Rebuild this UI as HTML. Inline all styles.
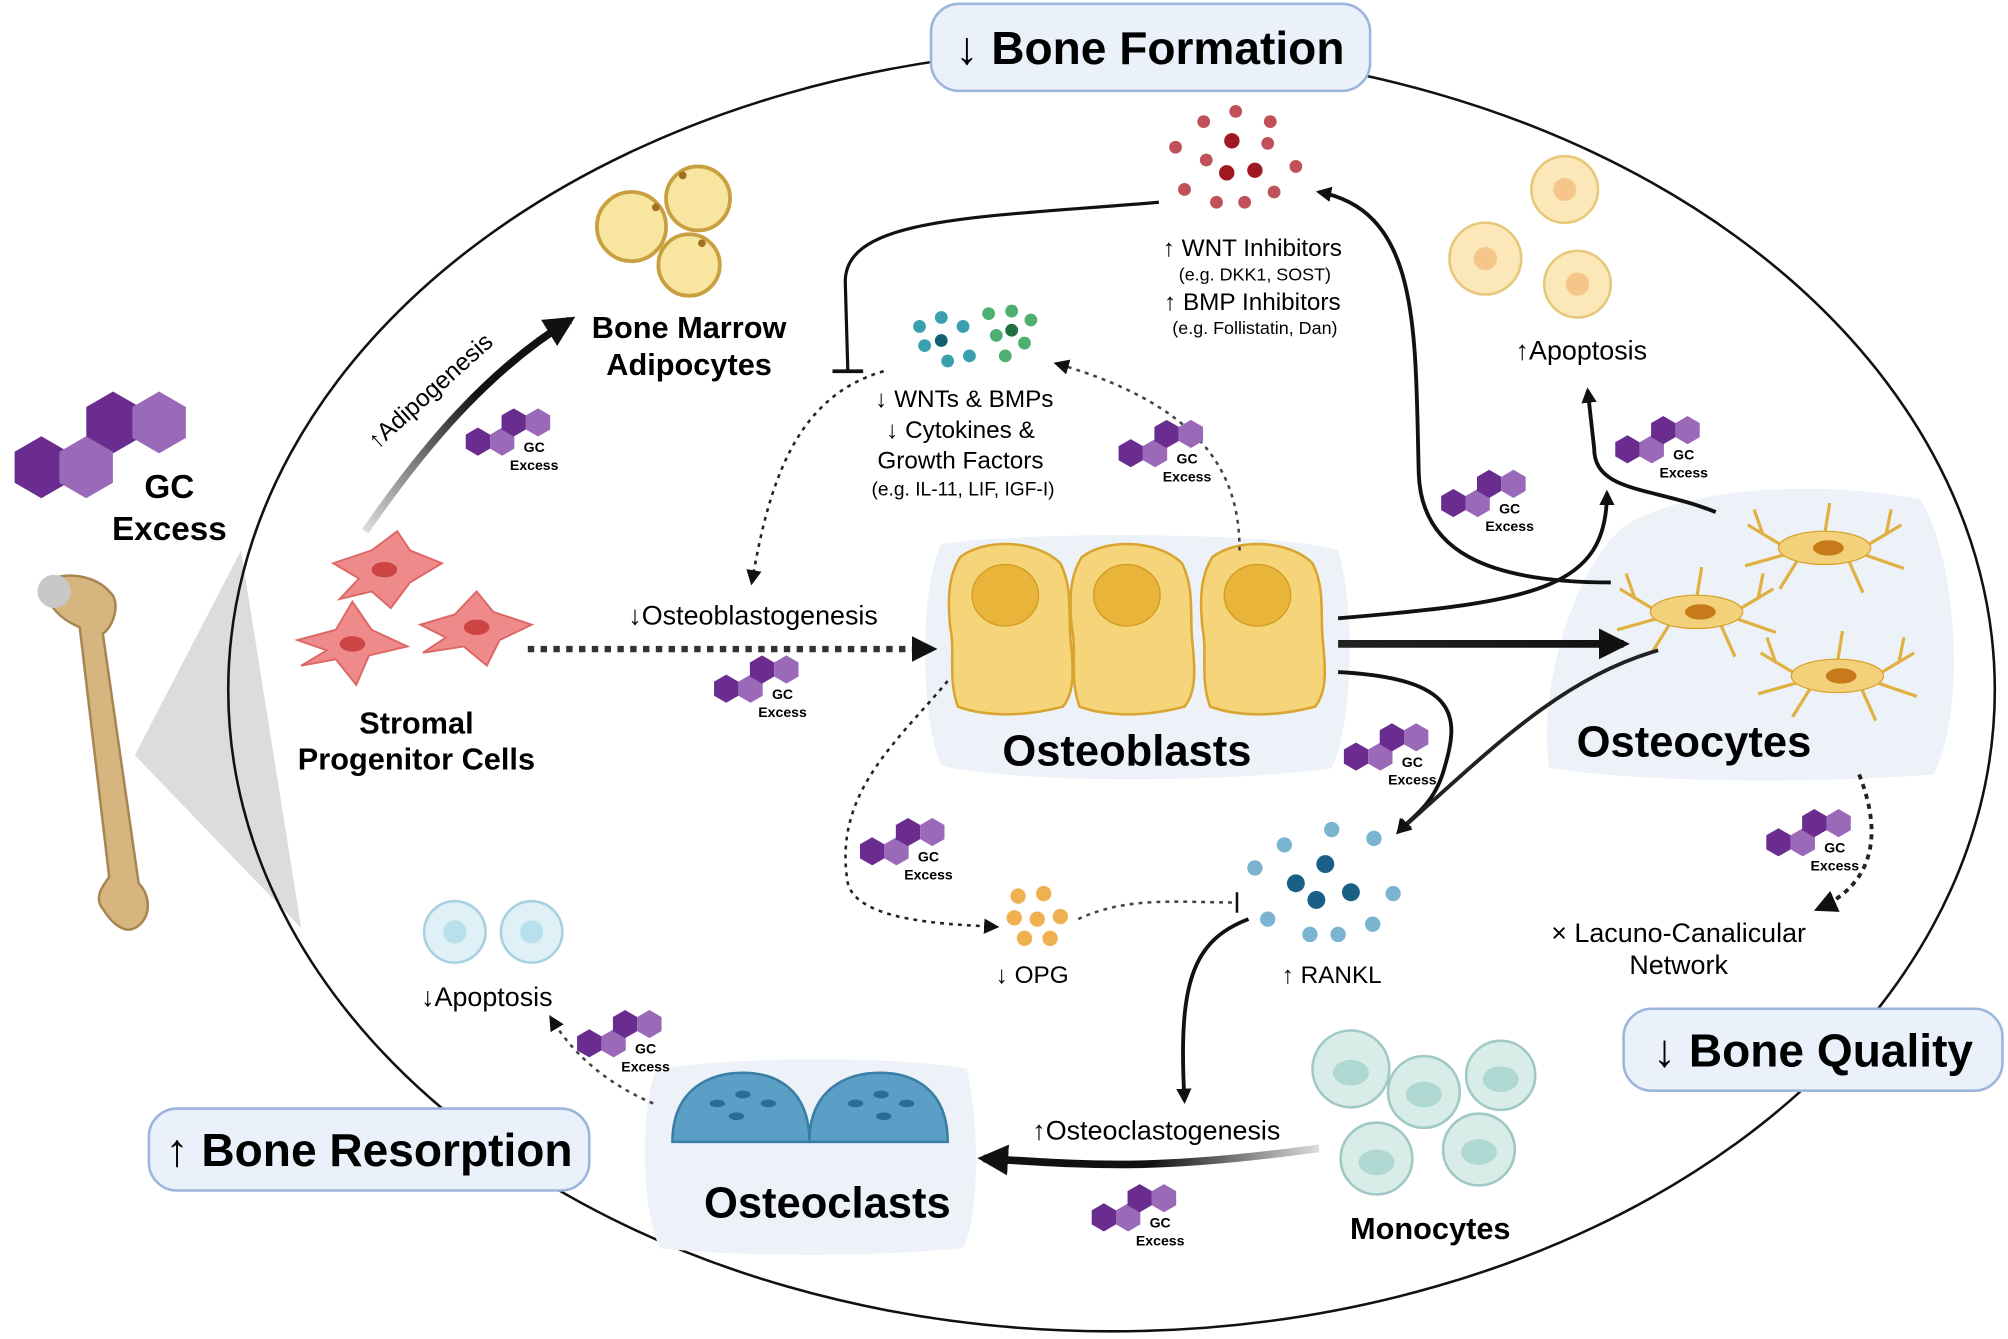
<!DOCTYPE html>
<html><head><meta charset="utf-8"><style>
html,body{margin:0;padding:0;background:#fff}
svg{display:block}
text{font-family:"Liberation Sans",sans-serif}
</style></head><body>
<svg width="2008" height="1339" viewBox="0 0 1568 1046" xmlns="http://www.w3.org/2000/svg">
<defs>
<marker id="ah" viewBox="0 0 10 10" refX="8" refY="5" markerWidth="4" markerHeight="4" orient="auto"><path d="M0,0 L10,5 L0,10 z" fill="#111"/></marker>
<marker id="ahs" viewBox="0 0 10 10" refX="8" refY="5" markerWidth="6" markerHeight="6" orient="auto"><path d="M0,0 L10,5 L0,10 z" fill="#111"/></marker>
<linearGradient id="g1" gradientUnits="userSpaceOnUse" x1="285" y1="415" x2="445" y2="250"><stop offset="0" stop-color="#ddd"/><stop offset="0.6" stop-color="#111"/></linearGradient>
<linearGradient id="gh" gradientUnits="userSpaceOnUse" x1="1045" y1="0" x2="1268" y2="0"><stop offset="0" stop-color="#222"/><stop offset="1" stop-color="#111"/></linearGradient>
<linearGradient id="gm" gradientUnits="userSpaceOnUse" x1="1030" y1="0" x2="768" y2="0"><stop offset="0" stop-color="#ddd"/><stop offset="0.5" stop-color="#111"/></linearGradient>
<g id="hex"><polygon points="0,-11 9.5,-5.5 9.5,5.5 0,11 -9.5,5.5 -9.5,-5.5"/></g>
<g id="badge">
<use href="#hex" x="-44" y="-4" fill="#6a2d8f"/>
<use href="#hex" x="-25" y="-4" fill="#9a6ab8"/>
<use href="#hex" x="-16" y="-19" fill="#6a2d8f"/>
<use href="#hex" x="3" y="-19" fill="#9a6ab8"/>
<text x="0" y="4" font-size="11" font-weight="bold" text-anchor="middle">GC</text>
<text x="0" y="18" font-size="11" font-weight="bold" text-anchor="middle">Excess</text>
</g>
<g id="ob"><path d="M-40,-55 C-20,-70 20,-68 38,-50 C48,-30 44,-10 46,10 C48,30 50,50 40,62 C10,70 -20,70 -42,62 C-50,40 -44,20 -48,0 C-50,-20 -50,-40 -40,-55 z" fill="#f6d57a" stroke="#d9a530" stroke-width="2"/><ellipse cx="-5" cy="-25" rx="26" ry="24" fill="#e8b43a" stroke="#d39a20"/></g>
<g id="oc"><g stroke="#e0b040" stroke-width="2.5" fill="none"><path d="M-30,0 L-60,-18 M-48,-10 L-55,-30 M-30,5 L-62,14 M-20,8 L-35,32 M0,-10 L4,-35 M30,0 L60,-18 M48,-10 L52,-30 M30,5 L62,16 M18,8 L30,35"/></g><ellipse cx="0" cy="0" rx="36" ry="13" fill="#f3d07a" stroke="#d9a530"/><ellipse cx="3" cy="0" rx="12" ry="6" fill="#c87a1a"/></g>
</defs>
<rect width="1568" height="1046" fill="#fff"/>
<polygon points="105,590 188,430 235,725" fill="#dcdcdc"/>
<ellipse cx="868" cy="539" rx="690" ry="501" fill="none" stroke="#111" stroke-width="2"/>
<path d="M35,455 C50,445 75,450 85,462 C95,470 88,490 80,495 L108,690 C118,700 118,718 105,725 C95,730 85,718 80,710 C72,700 82,690 85,685 L62,490 C50,485 35,475 35,455 z" fill="#d6b57e" stroke="#a88654" stroke-width="2"/>
<circle cx="42" cy="462" r="13" fill="#c8c8c8"/>
<g fill="#6a2d8f"><use href="#hex" transform="translate(32,365) scale(2.2)"/><use href="#hex" transform="translate(88,330) scale(2.2)"/></g>
<g fill="#9a6ab8"><use href="#hex" transform="translate(67,365) scale(2.2)"/><use href="#hex" transform="translate(124,330) scale(2.2)"/></g>
<text x="132" y="389" font-size="26" font-weight="bold" text-anchor="middle">GC</text>
<text x="132" y="422" font-size="26" font-weight="bold" text-anchor="middle">Excess</text>
<rect x="727" y="3" width="343" height="68" rx="22" fill="#eaf1fa" stroke="#9bb5dc" stroke-width="2"/>
<text x="898" y="50" font-size="36" font-weight="bold" text-anchor="middle">↓ Bone Formation</text>
<rect x="1268" y="788" width="296" height="64" rx="22" fill="#eaf1fa" stroke="#9bb5dc" stroke-width="2"/>
<text x="1416" y="833" font-size="36" font-weight="bold" text-anchor="middle">↓ Bone Quality</text>
<rect x="116" y="866" width="344" height="64" rx="22" fill="#eaf1fa" stroke="#9bb5dc" stroke-width="2"/>
<text x="288" y="911" font-size="36" font-weight="bold" text-anchor="middle">↑ Bone Resorption</text>
<path d="M735,425 C800,415 1000,415 1045,430 C1060,480 1055,570 1040,600 C960,612 790,612 735,598 C718,560 718,460 735,425 z" fill="#edf2f8"/>
<path d="M1270,410 C1320,380 1420,375 1500,390 C1530,440 1535,560 1510,605 C1420,612 1290,612 1210,600 C1200,540 1230,440 1270,410 z" fill="#edf2f8"/>
<path d="M512,835 C580,825 700,825 755,835 C765,880 765,950 752,975 C680,982 580,982 515,975 C500,940 500,870 512,835 z" fill="#edf2f8"/>
<g fill="#f8e6a0" stroke="#c9a040" stroke-width="3"><circle cx="493" cy="177" r="27"/><circle cx="545" cy="155" r="25"/><circle cx="538" cy="207" r="24"/></g>
<g fill="#a07020"><circle cx="512" cy="162" r="3"/><circle cx="533" cy="137" r="3"/><circle cx="548" cy="190" r="3"/></g>
<text x="538" y="264" font-size="24" font-weight="bold" text-anchor="middle">Bone Marrow</text>
<text x="538" y="293" font-size="24" font-weight="bold" text-anchor="middle">Adipocytes</text>
<path d="M285,415 C330,350 380,290 445,250" stroke="url(#g1)" stroke-width="6" fill="none" marker-end="url(#ah)"/>
<text transform="translate(340,310) rotate(-42)" font-size="19" text-anchor="middle">↑Adipogenesis</text>
<g fill="#ef8a8a" stroke="#d66" stroke-width="1.5">
<path d="M260,440 L290,430 L310,415 L320,430 L345,440 L320,455 L305,475 L290,462 L265,468 L280,452 z"/>
<path d="M232,500 L262,492 L275,470 L290,492 L318,505 L288,512 L278,535 L262,515 L235,520 L255,508 z"/>
<path d="M328,488 L355,480 L372,462 L385,478 L415,488 L390,500 L380,520 L362,505 L330,510 L348,498 z"/>
</g>
<g fill="#c44"><ellipse cx="300" cy="445" rx="10" ry="6"/><ellipse cx="275" cy="503" rx="10" ry="6"/><ellipse cx="372" cy="490" rx="10" ry="6"/></g>
<text x="325" y="573" font-size="24" font-weight="bold" text-anchor="middle">Stromal</text>
<text x="325" y="601" font-size="24" font-weight="bold" text-anchor="middle">Progenitor Cells</text>
<path d="M412,507 L728,507" stroke="#333" stroke-width="5" stroke-dasharray="5,5" fill="none" marker-end="url(#ah)"/>
<text x="588" y="488" font-size="21" text-anchor="middle">↓Osteoblastogenesis</text>
<use href="#ob" x="790" y="490"/><use href="#ob" x="885" y="490"/><use href="#ob" x="987" y="490"/>
<text x="880" y="598" font-size="34" font-weight="bold" text-anchor="middle">Osteoblasts</text>
<use href="#oc" x="1425" y="428"/><use href="#oc" x="1325" y="478"/><use href="#oc" x="1435" y="528"/>
<text x="1323" y="591" font-size="34" font-weight="bold" text-anchor="middle">Osteocytes</text>
<path d="M1045,503 L1268,503" stroke="url(#gh)" stroke-width="6" fill="none" marker-end="url(#ah)"/>
<g fill="#c0505a"><circle cx="940" cy="95" r="5"/><circle cx="965" cy="87" r="5"/><circle cx="992" cy="95" r="5"/><circle cx="918" cy="115" r="5"/><circle cx="942" cy="125" r="5"/><circle cx="1012" cy="130" r="5"/><circle cx="925" cy="148" r="5"/><circle cx="950" cy="158" r="5"/><circle cx="972" cy="158" r="5"/><circle cx="995" cy="150" r="5"/><circle cx="990" cy="112" r="5"/></g>
<g fill="#a01820"><circle cx="962" cy="110" r="6"/><circle cx="958" cy="135" r="6"/><circle cx="980" cy="133" r="6"/></g>
<text x="978" y="200" font-size="19" text-anchor="middle">↑ WNT Inhibitors</text>
<text x="980" y="219" font-size="14" text-anchor="middle">(e.g. DKK1, SOST)</text>
<text x="978" y="242" font-size="19" text-anchor="middle">↑ BMP Inhibitors</text>
<text x="980" y="261" font-size="14" text-anchor="middle">(e.g. Follistatin, Dan)</text>
<path d="M905,158 C760,170 660,170 660,220 L662,290" stroke="#111" stroke-width="2.5" fill="none"/>
<line x1="650" y1="290" x2="674" y2="290" stroke="#111" stroke-width="3"/>
<g fill="#3aa0b0"><circle cx="718" cy="255" r="5"/><circle cx="735" cy="248" r="5"/><circle cx="752" cy="255" r="5"/><circle cx="722" cy="270" r="5"/><circle cx="740" cy="282" r="5"/><circle cx="757" cy="278" r="5"/></g>
<g fill="#106070"><circle cx="735" cy="266" r="5"/></g>
<g fill="#4db070"><circle cx="772" cy="245" r="5"/><circle cx="790" cy="243" r="5"/><circle cx="805" cy="250" r="5"/><circle cx="778" cy="262" r="5"/><circle cx="800" cy="268" r="5"/><circle cx="785" cy="278" r="5"/></g>
<g fill="#207040"><circle cx="790" cy="258" r="5"/></g>
<text x="753" y="318" font-size="19" text-anchor="middle">↓ WNTs &amp; BMPs</text>
<text x="750" y="342" font-size="19" text-anchor="middle">↓ Cytokines &amp;</text>
<text x="750" y="366" font-size="19" text-anchor="middle">Growth Factors</text>
<text x="752" y="387" font-size="15" text-anchor="middle">(e.g. IL-11, LIF, IGF-I)</text>
<path d="M690,290 C620,310 600,380 587,455" stroke="#222" stroke-width="2" stroke-dasharray="3,4" fill="none" marker-end="url(#ahs)"/>
<path d="M968,430 C968,380 950,320 825,284" stroke="#444" stroke-width="2" stroke-dasharray="3,4" fill="none" marker-end="url(#ahs)"/>
<path d="M1045,483 C1200,470 1255,460 1255,385" stroke="#111" stroke-width="3" fill="none" marker-end="url(#ah)"/>
<path d="M1258,455 C1160,455 1110,430 1108,370 C1105,260 1110,165 1030,150" stroke="#111" stroke-width="3" fill="none" marker-end="url(#ah)"/>
<path d="M1340,400 C1290,380 1245,385 1245,350 L1240,305" stroke="#111" stroke-width="3" fill="none" marker-end="url(#ah)"/>
<g fill="#fbe7b8" stroke="#e7c77a" stroke-width="2"><circle cx="1222" cy="148" r="26"/><circle cx="1160" cy="202" r="28"/><circle cx="1232" cy="222" r="26"/></g>
<g fill="#f5c58a"><circle cx="1222" cy="148" r="9"/><circle cx="1160" cy="202" r="9"/><circle cx="1232" cy="222" r="9"/></g>
<text x="1235" y="281" font-size="21" text-anchor="middle">↑Apoptosis</text>
<path d="M1045,525 C1140,530 1140,560 1128,600 C1120,630 1100,640 1092,650" stroke="#111" stroke-width="3" fill="none" marker-end="url(#ah)"/>
<path d="M1295,508 C1220,530 1170,580 1092,650" stroke="#222" stroke-width="3" fill="none" marker-end="url(#ah)"/>
<g fill="#7ab4d0"><circle cx="980" cy="678" r="6"/><circle cx="1003" cy="660" r="6"/><circle cx="1040" cy="648" r="6"/><circle cx="1073" cy="655" r="6"/><circle cx="990" cy="718" r="6"/><circle cx="1023" cy="730" r="6"/><circle cx="1045" cy="730" r="6"/><circle cx="1072" cy="722" r="6"/><circle cx="1088" cy="698" r="6"/></g>
<g fill="#1a5f85"><circle cx="1035" cy="675" r="7"/><circle cx="1012" cy="690" r="7"/><circle cx="1055" cy="697" r="7"/><circle cx="1028" cy="703" r="7"/></g>
<text x="1040" y="768" font-size="19" text-anchor="middle">↑ RANKL</text>
<g fill="#f0b050"><circle cx="795" cy="700" r="6"/><circle cx="815" cy="698" r="6"/><circle cx="792" cy="717" r="6"/><circle cx="810" cy="718" r="6"/><circle cx="828" cy="716" r="6"/><circle cx="800" cy="733" r="6"/><circle cx="820" cy="733" r="6"/></g>
<text x="806" y="768" font-size="19" text-anchor="middle">↓ OPG</text>
<path d="M842,718 C880,700 920,705 965,705" stroke="#444" stroke-width="2" stroke-dasharray="3,4" fill="none"/>
<line x1="966" y1="697" x2="966" y2="713" stroke="#111" stroke-width="2"/>
<path d="M740,532 C700,580 650,620 662,690 C670,720 740,722 778,724" stroke="#222" stroke-width="2" stroke-dasharray="3,4" fill="none" marker-end="url(#ahs)"/>
<path d="M975,718 C930,735 920,770 925,860" stroke="#111" stroke-width="3" fill="none" marker-end="url(#ah)"/>
<g fill="#d8ece8" stroke="#a0c8c4" stroke-width="2"><circle cx="1055" cy="835" r="30"/><circle cx="1112" cy="853" r="28"/><circle cx="1172" cy="840" r="27"/><circle cx="1075" cy="905" r="28"/><circle cx="1155" cy="898" r="28"/></g>
<g fill="#b0d8d2"><ellipse cx="1055" cy="838" rx="14" ry="10"/><ellipse cx="1112" cy="855" rx="14" ry="10"/><ellipse cx="1172" cy="843" rx="14" ry="10"/><ellipse cx="1075" cy="908" rx="14" ry="10"/><ellipse cx="1155" cy="900" rx="14" ry="10"/></g>
<text x="1117" y="968" font-size="24" font-weight="bold" text-anchor="middle">Monocytes</text>
<path d="M1030,897 C900,915 850,910 768,905" stroke="url(#gm)" stroke-width="6" fill="none" marker-end="url(#ah)"/>
<text x="903" y="890" font-size="21" text-anchor="middle">↑Osteoclastogenesis</text>
<g fill="#5b9ec6" stroke="#3a7ea6" stroke-width="2">
<path d="M525,892 C525,850 555,838 580,838 C605,838 632,850 632,892 z"/>
<path d="M632,892 C632,850 662,838 687,838 C712,838 740,850 740,892 z"/>
</g>
<g fill="#2a6e96"><ellipse cx="560" cy="862" rx="6" ry="3"/><ellipse cx="580" cy="855" rx="6" ry="3"/><ellipse cx="600" cy="862" rx="6" ry="3"/><ellipse cx="575" cy="872" rx="6" ry="3"/><ellipse cx="668" cy="862" rx="6" ry="3"/><ellipse cx="688" cy="855" rx="6" ry="3"/><ellipse cx="708" cy="862" rx="6" ry="3"/><ellipse cx="690" cy="872" rx="6" ry="3"/></g>
<text x="646" y="951" font-size="34" font-weight="bold" text-anchor="middle">Osteoclasts</text>
<g fill="#dff0f6" stroke="#a8d0e0" stroke-width="2"><circle cx="355" cy="728" r="24"/><circle cx="415" cy="728" r="24"/></g>
<g fill="#b8e0ec"><circle cx="355" cy="728" r="9"/><circle cx="415" cy="728" r="9"/></g>
<text x="380" y="786" font-size="21" text-anchor="middle">↓Apoptosis</text>
<path d="M510,862 C470,845 445,820 430,795" stroke="#444" stroke-width="2" stroke-dasharray="3,4" fill="none" marker-end="url(#ahs)"/>
<path d="M1452,605 C1470,650 1465,690 1420,710" stroke="#222" stroke-width="3" stroke-dasharray="4,4" fill="none" marker-end="url(#ahs)"/>
<text x="1311" y="736" font-size="21" text-anchor="middle">× Lacuno-Canalicular</text>
<text x="1311" y="761" font-size="21" text-anchor="middle">Network</text>
<use href="#badge" x="417" y="349"/>
<use href="#badge" x="611" y="542"/>
<use href="#badge" x="927" y="358"/>
<use href="#badge" x="1179" y="397"/>
<use href="#badge" x="1315" y="355"/>
<use href="#badge" x="1103" y="595"/>
<use href="#badge" x="725" y="669"/>
<use href="#badge" x="1433" y="662"/>
<use href="#badge" x="504" y="819"/>
<use href="#badge" x="906" y="955"/>
</svg>
</body></html>
